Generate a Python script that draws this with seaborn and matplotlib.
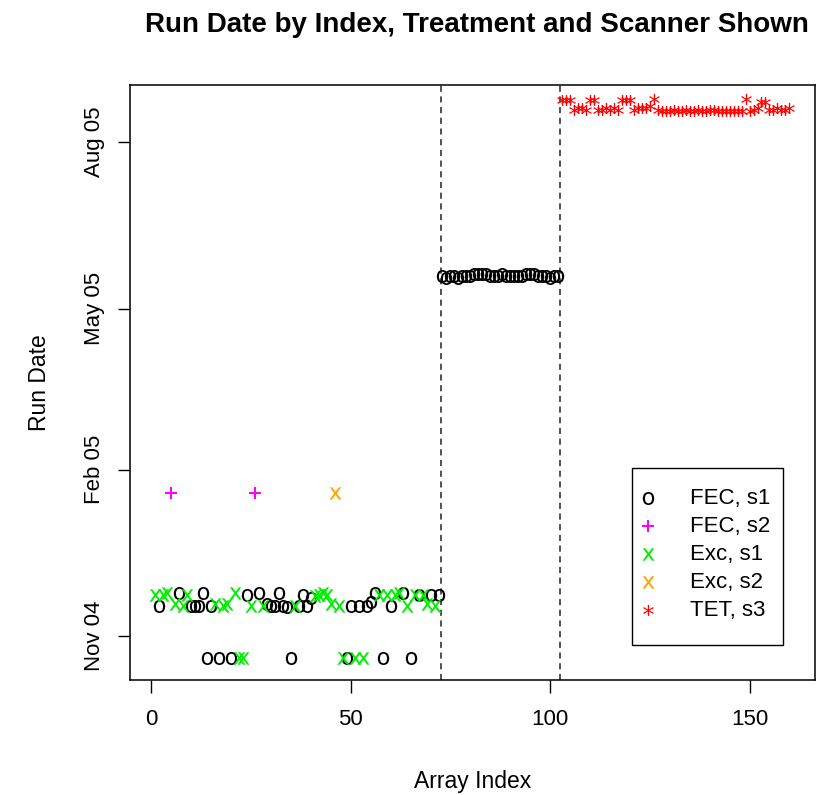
import matplotlib
matplotlib.use("Agg")
import matplotlib.pyplot as plt
import matplotlib.dates as mdates
from matplotlib.patches import Rectangle
import pandas as pd
import seaborn as sns

# array index and run date for each treatment / scanner group
fec_s1_idx = [2, 7, 10, 11, 12, 13, 14, 15, 17, 20, 24, 27, 29, 30, 31, 32, 33, 34, 35,
              37, 38, 39, 40, 49, 50, 52, 54, 55, 56, 58, 60, 63, 65, 67, 70, 72,
              73, 74, 75, 76, 77, 78, 79, 80, 81, 82, 83, 84, 85, 86, 87, 88, 89, 90,
              91, 92, 93, 94, 95, 96, 97, 98, 99, 100, 101, 102]
fec_s1_dates = ["2004-11-18", "2004-11-25", "2004-11-18", "2004-11-18", "2004-11-18",
                "2004-11-25", "2004-10-20", "2004-11-18", "2004-10-20", "2004-10-20",
                "2004-11-24", "2004-11-25", "2004-11-19", "2004-11-18", "2004-11-18",
                "2004-11-25", "2004-11-18", "2004-11-17", "2004-10-20", "2004-11-18",
                "2004-11-24", "2004-11-18", "2004-11-22", "2004-10-20", "2004-11-18",
                "2004-11-18", "2004-11-18", "2004-11-20", "2004-11-25", "2004-10-20",
                "2004-11-18", "2004-11-25", "2004-10-20", "2004-11-24", "2004-11-24",
                "2004-11-24",
                "2005-05-19", "2005-05-18", "2005-05-19", "2005-05-19", "2005-05-18",
                "2005-05-19", "2005-05-19", "2005-05-19", "2005-05-20", "2005-05-20",
                "2005-05-20", "2005-05-20", "2005-05-19", "2005-05-19", "2005-05-19",
                "2005-05-20", "2005-05-19", "2005-05-19", "2005-05-19", "2005-05-19",
                "2005-05-19", "2005-05-20", "2005-05-20", "2005-05-20", "2005-05-19",
                "2005-05-19", "2005-05-19", "2005-05-18", "2005-05-19", "2005-05-19"]

fec_s2_idx = [5, 26]
fec_s2_dates = ["2005-01-19", "2005-01-19"]

exc_s1_idx = [1, 3, 4, 6, 8, 9, 16, 18, 19, 21, 22, 23, 25, 28, 36, 41, 42, 43, 44,
              45, 47, 48, 51, 53, 57, 59, 61, 62, 64, 66, 68, 69, 71]
exc_s1_dates = ["2004-11-24", "2004-11-24", "2004-11-25", "2004-11-19", "2004-11-18",
                "2004-11-24", "2004-11-19", "2004-11-18", "2004-11-19", "2004-11-25",
                "2004-10-20", "2004-10-20", "2004-11-18", "2004-11-18", "2004-11-18",
                "2004-11-23", "2004-11-24", "2004-11-25", "2004-11-24", "2004-11-19",
                "2004-11-18", "2004-10-20", "2004-10-20", "2004-10-20", "2004-11-24",
                "2004-11-24", "2004-11-24", "2004-11-25", "2004-11-18", "2004-11-24",
                "2004-11-24", "2004-11-19", "2004-11-18"]

exc_s2_idx = [46]
exc_s2_dates = ["2005-01-19"]

tet_s3_idx = list(range(103, 161))
tet_s3_aug_days = [24, 24, 24, 19, 20, 20, 19, 24, 24, 19, 19, 20, 19, 20, 19, 24, 24, 24,
                   19, 20, 20, 20, 21, 25, 19, 18, 18, 18, 19, 18, 18, 19, 18, 18, 19, 18,
                   18, 19, 19, 18, 18, 18, 18, 18, 18, 18, 25, 18, 19, 20, 23, 23, 19, 19,
                   20, 19, 19, 20]
tet_s3_dates = ["2005-08-%02d" % d for d in tet_s3_aug_days]

group_labels = ["FEC, s1", "FEC, s2", "Exc, s1", "Exc, s2", "TET, s3"]
group_colors = ["black", "magenta", "#00ee00", "orange", "red"]
group_markers = [r"$\mathrm{o}$", r"$+$", r"$\mathrm{x}$", r"$\mathrm{x}$", r"$*$"]
group_sizes = [88, 80, 80, 80, 62]

boundaries = [72.5, 102.5]
date_ticks = ["2004-11-01", "2005-02-01", "2005-05-01", "2005-08-01"]
date_tick_labels = ["Nov 04", "Feb 05", "May 05", "Aug 05"]
date_limits = ["2004-10-08 00:00", "2005-09-01 12:00"]


def build_frame():
    parts = []
    for lab, idx, dates in zip(group_labels,
                               [fec_s1_idx, fec_s2_idx, exc_s1_idx, exc_s2_idx, tet_s3_idx],
                               [fec_s1_dates, fec_s2_dates, exc_s1_dates, exc_s2_dates, tet_s3_dates]):
        parts.append(pd.DataFrame({"idx": idx, "date": pd.to_datetime(dates), "group": lab}))
    return pd.concat(parts, ignore_index=True)


def main():
    df = build_frame()
    sns.set_style("white")
    plt.rcParams["font.family"] = ["Liberation Sans", "DejaVu Sans"]
    plt.rcParams["text.color"] = "black"
    plt.rcParams["axes.labelcolor"] = "black"
    plt.rcParams["xtick.color"] = "black"
    plt.rcParams["ytick.color"] = "black"

    fig = plt.figure(figsize=(8.23, 7.95), dpi=100)
    ax = fig.add_axes([0.158, 0.145, 0.832, 0.748])

    for lab, col, mk, sz in zip(group_labels, group_colors, group_markers, group_sizes):
        sub = df[df["group"] == lab]
        sns.scatterplot(data=sub, x="idx", y="date", ax=ax, marker=mk, color=col,
                        s=sz, linewidth=0, label=lab, zorder=3)

    for b in boundaries:
        ax.axvline(b, color="#222222", ls=(0, (4, 3)), lw=1.1, zorder=2)

    ax.margins(x=0.04)
    ax.set_ylim(mdates.date2num(pd.to_datetime(date_limits)))
    ax.set_xticks([0, 50, 100, 150])
    ticks = mdates.date2num(pd.to_datetime(date_ticks))
    ax.set_yticks(ticks)
    ax.set_yticklabels(date_tick_labels, rotation=90, va="center")
    ax.tick_params(labelsize=16, length=9, width=1, direction="out",
                   bottom=True, left=True, color="black", pad=9)
    ax.tick_params(axis="x", pad=12)

    for sp in ax.spines.values():
        sp.set_color("black")
        sp.set_linewidth(1.1)

    ax.set_xlabel("Array Index", fontsize=16.5, labelpad=29)
    ax.set_ylabel("Run Date", fontsize=16.5, labelpad=24)
    ax.set_title("Run Date by Index, Treatment and Scanner Shown",
                 fontsize=20, fontweight="bold", pad=38, x=0.507)

    # legend entries without frame, plus a plain box drawn round them
    ax.legend(loc="upper left", bbox_to_anchor=(0.740, 0.322), fontsize=16,
              frameon=False, labelspacing=0.31, handlelength=1.0,
              handletextpad=1.4, borderpad=0, borderaxespad=0)
    ax.add_patch(Rectangle((0.733, 0.059), 0.220, 0.297, transform=ax.transAxes,
                           fill=False, edgecolor="black", linewidth=1.0, zorder=4))

    fig.savefig("out.png", dpi=100)


if __name__ == "__main__":
    main()
